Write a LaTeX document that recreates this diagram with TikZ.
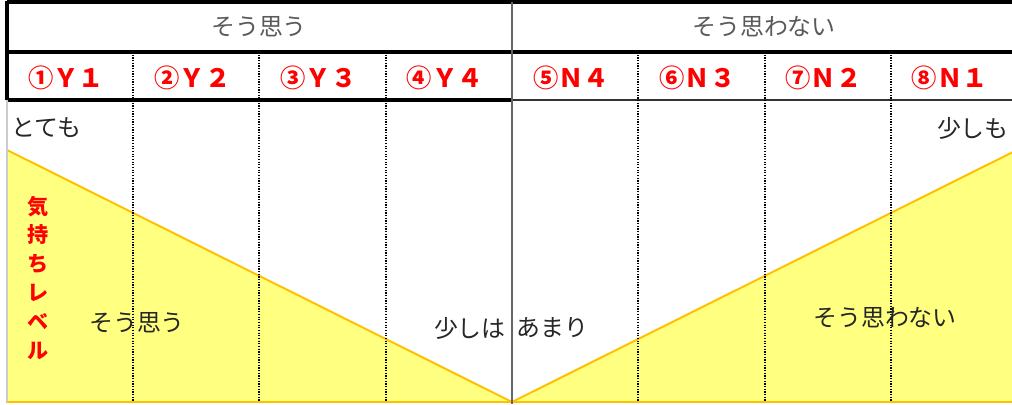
\documentclass[tikz,border=0pt]{standalone}
\usepackage{fontspec}
\setmainfont{Noto Sans CJK JP}
\usetikzlibrary{calc}
\definecolor{FeelYellow}{RGB}{255,255,128}
\definecolor{FeelOrange}{RGB}{255,192,0}
\definecolor{LabelRed}{RGB}{255,0,0}

\begin{document}
\begin{tikzpicture}[x=0.025cm, y=-0.025cm,
    headtext/.style = {text=black!65, font=\fontsize{17}{19}\selectfont},
    collabel/.style = {text=LabelRed, font=\bfseries\fontsize{18}{20}\selectfont},
    bodytext/.style = {text=black!85, font=\fontsize{17}{19}\selectfont, inner sep=0pt},
    coldiv/.style = {densely dotted, line width=0.9pt}]
    \useasboundingbox (0,0) rectangle (1012,405);
    \clip (0,0) rectangle (1012,405);
    %%Feeling level triangles
    \draw[FeelOrange, line width=1.4pt, fill=FeelYellow] (7,150) to (512,402) to (7,402) -- cycle;
    \draw[FeelOrange, line width=1.4pt, fill=FeelYellow] (1017,150) to (512,402) to (1017,402) -- cycle;
    %%Table lines
    \draw[line width=2.4pt] (7,2) to (1017,2);
    \draw[line width=2.2pt] (7,52) to (1017,52);
    \draw[line width=2.2pt] (7,100) to (512,100);
    \draw[black!80, line width=1.3pt] (512,100) to (1017,100);
    \draw[line width=2.2pt] (7,1) to (7,100);
    \draw[black!20, line width=1.2pt] (7,100) to (7,402);
    \draw[black!60, line width=1.6pt] (512,2) to (512,404);
    \foreach \x in {133,259,386,638,765,891}
        \draw[coldiv] (\x,52) to (\x,402);
    %%Headers
    \node[headtext] (headY) at (259,27) {そう思う};
    \node[headtext] (headN) at (764,27) {そう思わない};
    \foreach \lbl [count=\i] in {①Ｙ１,②Ｙ２,③Ｙ３,④Ｙ４,⑤Ｎ４,⑥Ｎ３,⑦Ｎ２,⑧Ｎ１}
        \node[collabel] (col\i) at ({7+126.25*(\i-0.5)-4},78) {\lbl};
    %%Texts
    \node[bodytext, anchor=west] (totemo) at (11,128) {とても};
    \node[bodytext, anchor=east] (sukoshimo) at (1009,128) {少しも};
    \node[bodytext] (souY) at (137,323) {そう思う};
    \node[bodytext, anchor=east] (sukoshiwa) at (506,328) {少しは};
    \node[bodytext, anchor=west] (amari) at (516,328) {あまり};
    \node[bodytext] (souN) at (885,318) {そう思わない};
    \node[text=LabelRed, font=\bfseries\fontsize{15}{20.6}\selectfont, align=center] (level) at (38,278)
        {気\\持\\ち\\レ\\ベ\\ル};
\end{tikzpicture}
\end{document}
